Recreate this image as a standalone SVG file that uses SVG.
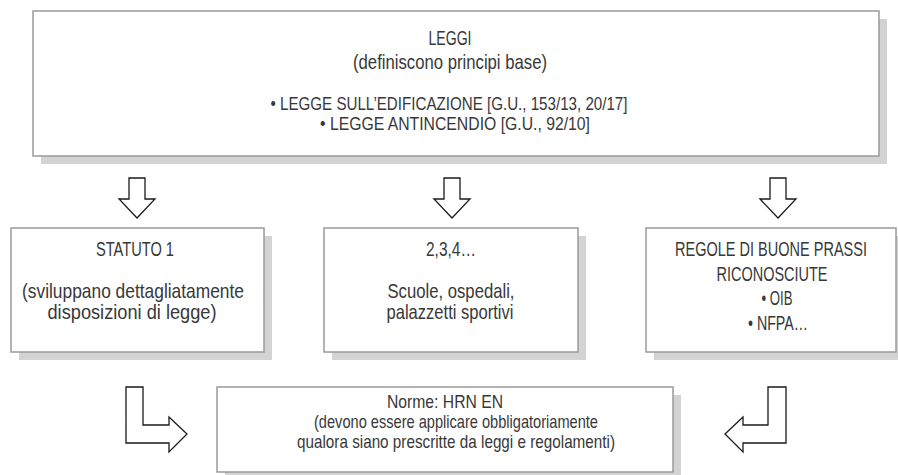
<svg xmlns="http://www.w3.org/2000/svg" width="898" height="475" viewBox="0 0 898 475">
<style>
.box{fill:#ffffff;stroke:#9a9a9a;stroke-width:1.5}
.shadow{fill:#d3d3d3}
.t{font-family:"Liberation Sans Narrow","Liberation Sans",Arial,sans-serif;font-size:21px;fill:#383838;text-anchor:middle}
.s{font-size:19px}
.arrow{fill:#ffffff;stroke:#1a1a1a;stroke-width:1.3;stroke-linejoin:miter}
</style>
<rect width="898" height="475" fill="#ffffff"/>
<g id="leggi">
<rect class="shadow" x="41" y="19" width="846" height="145"/>
<rect class="box" x="33" y="11" width="846" height="145"/>
<text class="t" x="450" y="45" textLength="43" lengthAdjust="spacingAndGlyphs">LEGGI</text>
<text class="t" x="450" y="69" textLength="194" lengthAdjust="spacingAndGlyphs">(definiscono principi base)</text>
<text class="t s" x="449" y="110" textLength="357" lengthAdjust="spacingAndGlyphs">• LEGGE SULL’EDIFICAZIONE [G.U., 153/13, 20/17]</text>
<text class="t s" x="455" y="130" textLength="270" lengthAdjust="spacingAndGlyphs">• LEGGE ANTINCENDIO [G.U., 92/10]</text>
</g>
<g id="statuto">
<rect class="shadow" x="19" y="236" width="253" height="124"/>
<rect class="box" x="11" y="228" width="253" height="124"/>
<text class="t" x="135" y="256" textLength="78" lengthAdjust="spacingAndGlyphs">STATUTO 1</text>
<text class="t" x="133" y="298" textLength="222" lengthAdjust="spacingAndGlyphs">(sviluppano dettagliatamente</text>
<text class="t" x="132" y="319" textLength="169" lengthAdjust="spacingAndGlyphs">disposizioni di legge)</text>
</g>
<g id="edifici">
<rect class="shadow" x="332" y="236" width="254" height="124"/>
<rect class="box" x="324" y="228" width="254" height="124"/>
<text class="t" x="451" y="256" textLength="50" lengthAdjust="spacingAndGlyphs">2,3,4…</text>
<text class="t" x="451" y="298" textLength="127" lengthAdjust="spacingAndGlyphs">Scuole, ospedali,</text>
<text class="t" x="450" y="319" textLength="127" lengthAdjust="spacingAndGlyphs">palazzetti sportivi</text>
</g>
<g id="regole">
<rect class="shadow" x="654" y="236" width="244" height="124"/>
<rect class="box" x="646" y="228" width="250" height="124"/>
<text class="t" style="font-size:20px" transform="translate(771,256) scale(0.726,1)" x="0" y="0">REGOLE DI BUONE PRASSI</text>
<text class="t" x="772" y="281" textLength="111" lengthAdjust="spacingAndGlyphs">RICONOSCIUTE</text>
<text class="t" x="777" y="305" textLength="31" lengthAdjust="spacingAndGlyphs">• OIB</text>
<text class="t" x="778" y="330" textLength="60" lengthAdjust="spacingAndGlyphs">• NFPA…</text>
</g>
<g id="norme">
<rect class="shadow" x="225" y="395" width="456" height="80"/>
<rect class="box" x="217" y="387" width="456" height="85"/>
<text class="t s" x="445" y="408" textLength="116" lengthAdjust="spacingAndGlyphs">Norme: HRN EN</text>
<text class="t s" x="456" y="428" textLength="284" lengthAdjust="spacingAndGlyphs">(devono essere applicare obbligatoriamente</text>
<text class="t s" x="456" y="448" textLength="318" lengthAdjust="spacingAndGlyphs">qualora siano prescritte da leggi e regolamenti)</text>
</g>
<g id="connectors">
<polygon class="arrow" points="129,178 145,178 145,199 155,199 137,218 119,199 129,199"/>
<polygon class="arrow" points="444,178 460,178 460,199 470,199 452,218 434,199 444,199"/>
<polygon class="arrow" points="770,178 786,178 786,199 796,199 778,218 760,199 770,199"/>
<polygon class="arrow" points="126,387 143,387 143,425 169,425 169,417 187,434 169,452 169,443 126,443"/>
<polygon class="arrow" points="768,387 786,387 786,443 743,443 743,452 725,434 743,417 743,425 768,425"/>
</g>
</svg>
